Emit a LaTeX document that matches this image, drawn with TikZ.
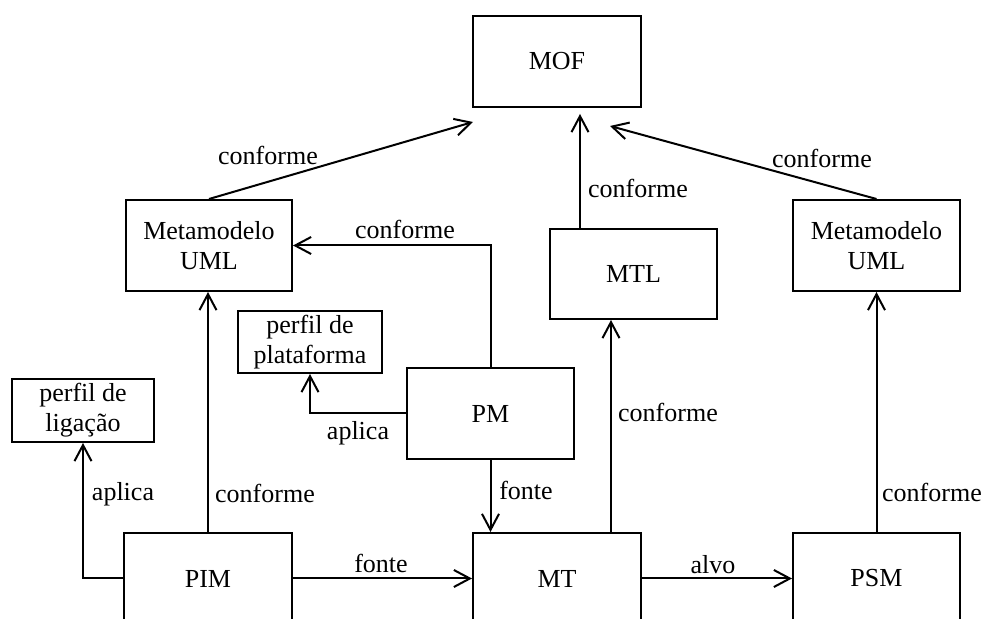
\documentclass[tikz,border=0pt]{standalone}
\usepackage{fontspec}
\setmainfont{Liberation Serif}
\usetikzlibrary{arrows.meta,calc}

\begin{document}
\begin{tikzpicture}[
  x=0.5pt, y=-0.5pt,
  every node/.style={font=\fontsize{13}{15}\selectfont},
  box/.style={draw, line width=1pt, inner sep=0pt, align=center},
  arr/.style={draw, line width=1pt, -{Straight Barb[length=8pt,width=8.5pt]}},
  lbl/.style={inner sep=0pt}
]
\useasboundingbox (0,0) rectangle (987,619);

% model boxes
\node[box, minimum width=84pt, minimum height=45.5pt] (MOF)   at (557,61.5)   {MOF};
\node[box, minimum width=83pt, minimum height=45.5pt] (metaL) at (209,245.5)  {Metamodelo\\UML};
\node[box, minimum width=83.5pt, minimum height=45.5pt] (metaR) at (876.5,245.5) {Metamodelo\\UML};
\node[box, minimum width=83.5pt, minimum height=45pt] (MTL)   at (633.5,274)  {MTL};
\node[box, minimum width=72pt, minimum height=31pt]   (platf) at (310,342)    {perfil de\\plataforma};
\node[box, minimum width=71pt, minimum height=31.5pt] (lig)   at (83,410.5)   {perfil de\\ligação};
\node[box, minimum width=83.5pt, minimum height=45.5pt] (PM)  at (490.5,413.5) {PM};
\node[box, minimum width=84pt, minimum height=45.5pt] (PIM)   at (208,578.5)  {PIM};
\node[box, minimum width=84pt, minimum height=45.5pt] (MT)    at (557,578.5)  {MT};
\node[box, minimum width=83.5pt, minimum height=45.5pt] (PSM) at (876.5,578.5) {PSM};

% free ends of the arrows towards MOF
\coordinate (mofA) at (473,122);
\coordinate (mofB) at (580,114);
\coordinate (mofC) at (610,126);
% foot of the MT -> MTL arrow on the top side of MT
\coordinate (mtTop) at ($(MT.north)+(54,0)$);

% connectors
\draw[arr] (metaL.north) -- (mofA);
\draw[arr] (MTL.north -| mofB) -- (mofB);
\draw[arr] (metaR.north) -- (mofC);
\draw[arr] (PM.north) |- (metaL.east);
\draw[arr] (PM.west) -| (platf.south);
\draw[arr] (PIM.west) -| (lig.south);
\draw[arr] (PIM.north) -- (PIM.north |- metaL.south);
\draw[arr] (PIM.east) -- (MT.west);
\draw[arr] (PM.south) -- (PM.south |- MT.north);
\draw[arr] (mtTop) -- (mtTop |- MTL.south);
\draw[arr] (MT.east) -- (PSM.west);
\draw[arr] (PSM.north) -- (metaR.south);

% connector labels
\node[lbl] (l1)  at (268,155) {conforme};
\node[lbl] (l2)  at (638,188) {conforme};
\node[lbl] (l3)  at (822,158) {conforme};
\node[lbl] (l4)  at (405,229) {conforme};
\node[lbl] (l5)  at (358,433) {aplica};
\node[lbl] (l6)  at (123,494) {aplica};
\node[lbl] (l7)  at (265,493) {conforme};
\node[lbl] (l8)  at (381,563) {fonte};
\node[lbl] (l9)  at (526,490) {fonte};
\node[lbl] (l10) at (668,412) {conforme};
\node[lbl] (l11) at (713,565) {alvo};
\node[lbl] (l12) at (932,492) {conforme};
\end{tikzpicture}
\end{document}
